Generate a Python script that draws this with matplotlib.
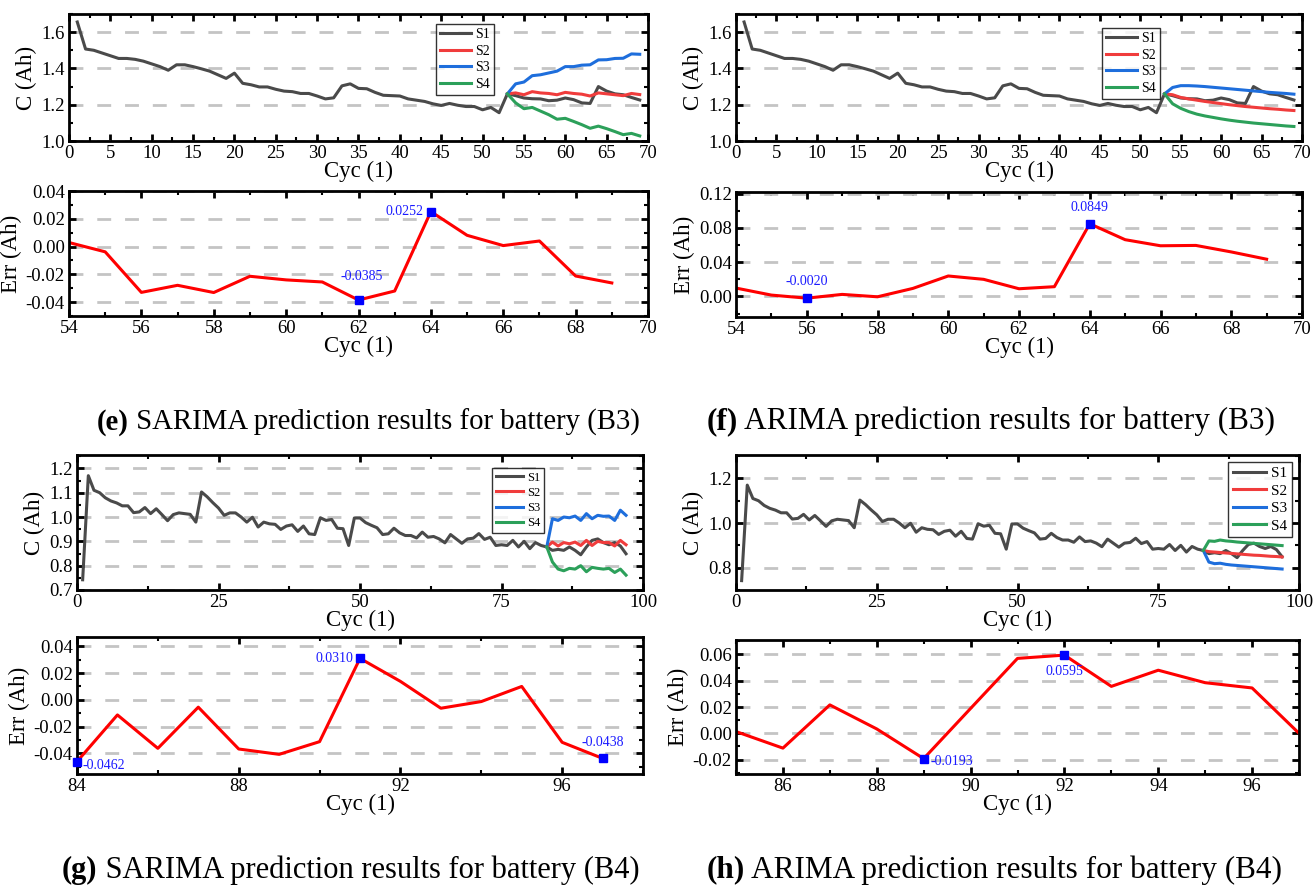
import numpy as np
import matplotlib.pyplot as plt
from matplotlib.ticker import MultipleLocator, FormatStrFormatter

plt.rcParams['font.family'] = ['Liberation Serif', 'DejaVu Serif']

# ---------------- battery B3 ----------------
cyc_b3 = np.arange(1, 70)
cap_b3 = [1.656, 1.507, 1.500, 1.485, 1.470, 1.455, 1.455, 1.450, 1.440, 1.425,
          1.410, 1.390, 1.420, 1.420, 1.410, 1.398, 1.385, 1.365, 1.345, 1.374,
          1.318, 1.310, 1.298, 1.298, 1.285, 1.275, 1.272, 1.262, 1.262, 1.248,
          1.232, 1.238, 1.304, 1.315, 1.290, 1.288, 1.268, 1.252, 1.250, 1.248,
          1.232, 1.225, 1.218, 1.205, 1.196, 1.207, 1.197, 1.190, 1.190, 1.172,
          1.185, 1.156, 1.260, 1.250, 1.237, 1.233, 1.232, 1.222, 1.225, 1.237,
          1.228, 1.210, 1.207, 1.300, 1.275, 1.260, 1.255, 1.240, 1.226]

pred_cyc_b3 = np.arange(53, 70)
# SARIMA forecasts
sar_s2_b3 = [1.260, 1.265, 1.255, 1.272, 1.265, 1.262, 1.255, 1.268, 1.262, 1.258,
             1.248, 1.265, 1.260, 1.255, 1.250, 1.262, 1.256]
sar_s3_b3 = [1.260, 1.315, 1.325, 1.360, 1.365, 1.375, 1.385, 1.410, 1.410, 1.418,
             1.420, 1.447, 1.448, 1.455, 1.456, 1.480, 1.478]
sar_s4_b3 = [1.260, 1.210, 1.178, 1.185, 1.165, 1.145, 1.120, 1.125, 1.108, 1.090,
             1.070, 1.082, 1.068, 1.052, 1.035, 1.042, 1.028]
# ARIMA forecasts
ar_s2_b3 = [1.260, 1.255, 1.240, 1.232, 1.225, 1.218, 1.212, 1.206, 1.200, 1.195,
            1.190, 1.186, 1.182, 1.178, 1.175, 1.171, 1.168]
ar_s3_b3 = [1.260, 1.295, 1.305, 1.305, 1.303, 1.300, 1.296, 1.292, 1.288, 1.284,
            1.280, 1.276, 1.272, 1.268, 1.265, 1.262, 1.258]
ar_s4_b3 = [1.260, 1.205, 1.180, 1.162, 1.148, 1.138, 1.130, 1.122, 1.115, 1.109,
            1.104, 1.099, 1.095, 1.091, 1.087, 1.083, 1.080]

err_cyc_b3 = np.arange(54, 70)
sar_err_b3 = [0.0029, -0.0038, -0.0330, -0.0279, -0.0331, -0.0214, -0.0240, -0.0255,
              -0.0385, -0.0320, 0.0252, 0.0081, 0.0007, 0.0040, -0.0212, -0.0262]
ar_err_b3 = [0.0098, 0.0016, -0.0020, 0.0024, -0.0004, 0.0094, 0.0239, 0.0200,
             0.0090, 0.0114, 0.0849, 0.0663, 0.0592, 0.0596, 0.0520, 0.0435]

# ---------------- battery B4 ----------------
cyc_b4 = np.arange(1, 98)
cap_b4 = [0.742, 1.170, 1.110, 1.100, 1.079, 1.066, 1.058, 1.046, 1.046, 1.018,
          1.021, 1.039, 1.014, 1.034, 1.010, 0.985, 1.010, 1.017, 1.014, 1.011,
          0.979, 1.103, 1.083, 1.059, 1.037, 1.007, 1.017, 1.017, 1.000, 0.979,
          0.999, 0.959, 0.979, 0.972, 0.970, 0.949, 0.963, 0.968, 0.941, 0.963,
          0.931, 0.928, 0.997, 0.986, 0.990, 0.954, 0.952, 0.883, 0.996, 0.996,
          0.977, 0.966, 0.956, 0.928, 0.931, 0.954, 0.935, 0.924, 0.924, 0.914,
          0.938, 0.917, 0.920, 0.910, 0.894, 0.928, 0.910, 0.892, 0.910, 0.913,
          0.932, 0.908, 0.917, 0.883, 0.886, 0.883, 0.904, 0.877, 0.900, 0.870,
          0.895, 0.883, 0.877, 0.863, 0.867, 0.863, 0.877, 0.863, 0.845, 0.877,
          0.904, 0.910, 0.895, 0.886, 0.895, 0.881, 0.849]

pred_cyc_b4 = np.arange(83, 98)
sar_s2_b4 = [0.877, 0.897, 0.881, 0.895, 0.890, 0.897, 0.883, 0.904, 0.883, 0.900,
             0.895, 0.895, 0.881, 0.904, 0.886]
sar_s3_b4 = [0.877, 0.993, 0.986, 1.000, 0.997, 1.004, 0.986, 1.014, 0.993, 1.007,
             1.003, 1.004, 0.986, 1.028, 1.007]
sar_s4_b4 = [0.877, 0.815, 0.786, 0.779, 0.789, 0.786, 0.800, 0.775, 0.793, 0.789,
             0.786, 0.789, 0.772, 0.786, 0.761]
ar_s2_b4 = [0.877, 0.872, 0.870, 0.868, 0.866, 0.864, 0.862, 0.860, 0.858, 0.856,
            0.855, 0.853, 0.851, 0.850, 0.848]
ar_s3_b4 = [0.877, 0.825, 0.818, 0.820, 0.815, 0.812, 0.810, 0.808, 0.806, 0.804,
            0.802, 0.800, 0.798, 0.796, 0.794]
ar_s4_b4 = [0.877, 0.920, 0.918, 0.924, 0.920, 0.918, 0.915, 0.913, 0.911, 0.909,
            0.907, 0.905, 0.903, 0.901, 0.899]

sar_err_cyc_b4 = np.arange(84, 98)
sar_err_b4 = [-0.0462, -0.0113, -0.0363, -0.0055, -0.0368, -0.0408, -0.0313, 0.0310,
              0.0138, -0.0063, -0.0013, 0.0100, -0.0318, -0.0438]
ar_err_cyc_b4 = np.arange(85, 98)
ar_err_b4 = [0.0013, -0.0113, 0.0216, 0.0033, -0.0193, 0.0189, 0.0570, 0.0595,
             0.0357, 0.0480, 0.0385, 0.0345, 0.0000]

series_names = ['S1', 'S2', 'S3', 'S4']
series_colors = ['#4a4a4a', '#f03c3c', '#1e6edc', '#2ca05a']

W, H = 1315, 888
fig = plt.figure(figsize=(W / 100, H / 100), dpi=100)


def add_ax(x0, y0, x1, y1):
    # pixel box -> figure fraction
    return fig.add_axes([x0 / W, 1 - y1 / H, (x1 - x0) / W, (y1 - y0) / H])


def style(ax, xmaj, xmin, ymaj, ymin, yfmt):
    for s in ax.spines.values():
        s.set_linewidth(2)
    ax.xaxis.set_major_locator(MultipleLocator(xmaj))
    ax.xaxis.set_minor_locator(MultipleLocator(xmin))
    ax.yaxis.set_major_locator(MultipleLocator(ymaj))
    ax.yaxis.set_minor_locator(MultipleLocator(ymin))
    ax.yaxis.set_major_formatter(FormatStrFormatter(yfmt))
    ax.tick_params(which='both', direction='in', top=True, right=True, labelsize=13.5)
    ax.tick_params(which='major', length=5, width=2, pad=3)
    ax.tick_params(which='minor', length=3, width=1.5)
    ax.grid(axis='y', which='major', color='#c4c4c4', linestyle=(0, (5, 5)), lw=2)
    ax.set_axisbelow(True)


def cap_panel(ax, cyc, cap, pcyc, preds, xlim, ylim, xt, yt, legpos, legsize):
    ax.plot(cyc, cap, color=series_colors[0], lw=2.2, label=series_names[0])
    for p, c, n in zip(preds, series_colors[1:], series_names[1:]):
        ax.plot(pcyc, p, color=c, lw=2.2, label=n)
    ax.set_xlim(*xlim)
    ax.set_ylim(*ylim)
    style(ax, xt[0], xt[1], yt[0], yt[1], '%.1f')
    ax.set_xlabel('Cyc (1)', fontsize=16.5, labelpad=-1)
    ax.set_ylabel('C (Ah)', fontsize=16.5, labelpad=3)
    leg = ax.legend(loc='upper left', bbox_to_anchor=legpos, fontsize=legsize,
                    frameon=True, fancybox=False, edgecolor='black',
                    handlelength=2.2, handletextpad=0.3, labelspacing=0.25,
                    borderpad=0.3, borderaxespad=0)
    leg.get_frame().set_linewidth(1)


def err_panel(ax, cyc, err, xlim, ylim, xt, yt, marks):
    ax.plot(cyc, err, color='#ff0000', lw=2.2)
    ax.set_xlim(*xlim)
    ax.set_ylim(*ylim)
    style(ax, xt[0], xt[1], yt[0], yt[1], '%.2f')
    ax.set_xlabel('Cyc (1)', fontsize=16.5, labelpad=-1)
    ax.set_ylabel('Err (Ah)', fontsize=16.5, labelpad=3)
    # blue squares + value labels on the extreme points
    for i, dx, dy, ha, va in marks:
        ax.plot(cyc[i], err[i], 's', color='#0000ff', ms=6, clip_on=False, zorder=5)
        ax.annotate('%.4f' % err[i], (cyc[i], err[i]), xytext=(dx, dy),
                    textcoords='offset points', ha=ha, va=va, color='#1a1aff',
                    fontsize=10)


# (e) SARIMA B3
ax = add_ax(69, 14, 648, 141)
cap_panel(ax, cyc_b3, cap_b3, pred_cyc_b3, [sar_s2_b3, sar_s3_b3, sar_s4_b3],
          (0, 70), (1.0, 1.7), (5, 2.5), (0.2, 0.1), (0.634, 0.92), 10)
ax = add_ax(69, 191, 648, 316)
err_panel(ax, err_cyc_b3, sar_err_b3, (54, 70), (-0.05, 0.04), (2, 1), (0.02, 0.01),
          [(8, 2, 12, 'center', 'bottom'), (10, -5, 0, 'right', 'center')])

# (f) ARIMA B3
ax = add_ax(736, 14, 1302, 141)
cap_panel(ax, cyc_b3, cap_b3, pred_cyc_b3, [ar_s2_b3, ar_s3_b3, ar_s4_b3],
          (0, 70), (1.0, 1.7), (5, 2.5), (0.2, 0.1), (0.647, 0.89), 10)
ax = add_ax(736, 192, 1302, 317)
err_panel(ax, err_cyc_b3, ar_err_b3, (54, 70), (-0.024, 0.122), (2, 1), (0.04, 0.02),
          [(2, 0, 7, 'center', 'bottom'), (10, 0, 7, 'center', 'bottom')])

# (g) SARIMA B4
ax = add_ax(77, 455, 643, 590)
cap_panel(ax, cyc_b4, cap_b4, pred_cyc_b4, [sar_s2_b4, sar_s3_b4, sar_s4_b4],
          (0, 100), (0.7, 1.255), (25, 12.5), (0.1, 0.05), (0.733, 0.904), 9)
ax = add_ax(77, 637, 643, 774)
err_panel(ax, sar_err_cyc_b4, sar_err_b4, (84, 98), (-0.0555, 0.047), (4, 2), (0.02, 0.01),
          [(0, 4, -3, 'left', 'center'), (7, -5, 0, 'right', 'center'),
           (13, 0, 7, 'center', 'bottom')])

# (h) ARIMA B4
ax = add_ax(736, 455, 1299, 590)
cap_panel(ax, cyc_b4, cap_b4, pred_cyc_b4, [ar_s2_b4, ar_s3_b4, ar_s4_b4],
          (0, 100), (0.7, 1.305), (25, 12.5), (0.2, 0.1), (0.874, 0.95), 11)
ax = add_ax(736, 640, 1299, 774)
err_panel(ax, ar_err_cyc_b4, ar_err_b4, (85, 97), (-0.031, 0.071), (2, 1), (0.02, 0.01),
          [(4, 5, -2, 'left', 'center'), (7, 0, -7, 'center', 'top')])

# captions: bold panel letter + regular text
captions = [('(e)', 'SARIMA prediction results for battery (B3)', 97, 422, 20.7),
            ('(f)', 'ARIMA prediction results for battery (B3)', 707, 422, 22.5),
            ('(g)', 'SARIMA prediction results for battery (B4)', 62, 870, 22),
            ('(h)', 'ARIMA prediction results for battery (B4)', 707, 870, 22.5)]
for tag, txt, x, y, fs in captions:
    t = fig.text(x / W, 1 - y / H, tag, fontsize=fs, fontweight='bold', va='center')
    plt.annotate(' ' + txt, xy=(1, 0), xycoords=t, va='bottom', ha='left', fontsize=fs)

fig.savefig('out.png', dpi=100)
